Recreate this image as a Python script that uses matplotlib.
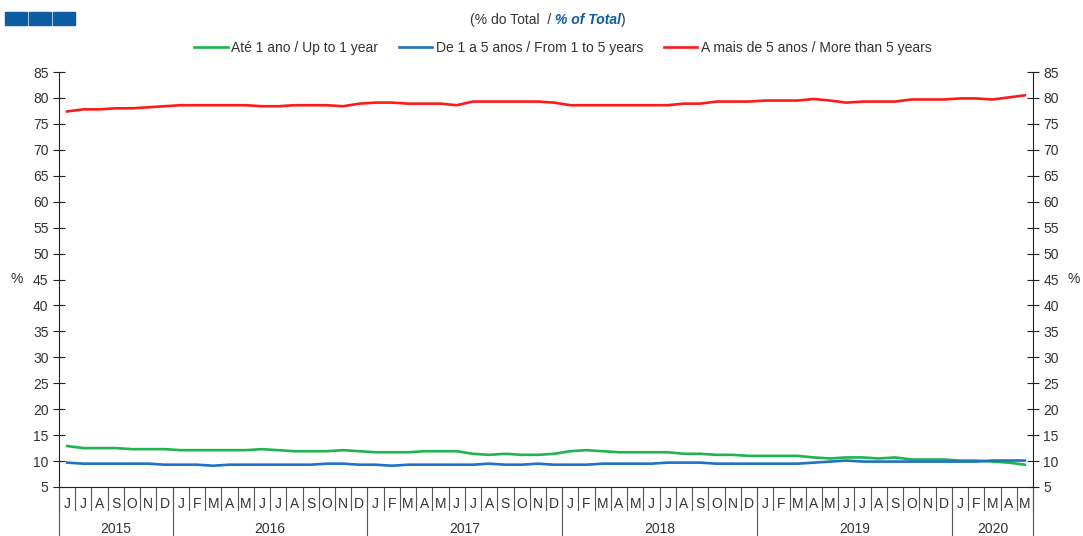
import matplotlib
matplotlib.use('Agg')
import matplotlib.pyplot as plt
from matplotlib.patches import Rectangle
import numpy as np

plt.rcParams['font.family'] = ['Liberation Sans', 'DejaVu Sans']

# monthly data, Jun 2015 .. May 2020
months = ['J', 'J', 'A', 'S', 'O', 'N', 'D'] + \
         ['J', 'F', 'M', 'A', 'M', 'J', 'J', 'A', 'S', 'O', 'N', 'D'] * 4 + \
         ['J', 'F', 'M', 'A', 'M']
years = ['2015', '2016', '2017', '2018', '2019', '2020']
months_per_year = [7, 12, 12, 12, 12, 5]

up_to_1 = [12.9, 12.5, 12.5, 12.5, 12.3, 12.3, 12.3,
           12.1, 12.1, 12.1, 12.1, 12.1, 12.3, 12.1, 11.9, 11.9, 11.9, 12.1, 11.9,
           11.7, 11.7, 11.7, 11.9, 11.9, 11.9, 11.4, 11.2, 11.4, 11.2, 11.2, 11.4,
           11.9, 12.1, 11.9, 11.7, 11.7, 11.7, 11.7, 11.4, 11.4, 11.2, 11.2, 11.0,
           11.0, 11.0, 11.0, 10.7, 10.5, 10.7, 10.7, 10.5, 10.7, 10.3, 10.3, 10.3,
           10.1, 10.1, 9.9, 9.7, 9.3]
one_to_5 = [9.7, 9.5, 9.5, 9.5, 9.5, 9.5, 9.3,
            9.3, 9.3, 9.1, 9.3, 9.3, 9.3, 9.3, 9.3, 9.3, 9.5, 9.5, 9.3,
            9.3, 9.1, 9.3, 9.3, 9.3, 9.3, 9.3, 9.5, 9.3, 9.3, 9.5, 9.3,
            9.3, 9.3, 9.5, 9.5, 9.5, 9.5, 9.7, 9.7, 9.7, 9.5, 9.5, 9.5,
            9.5, 9.5, 9.5, 9.7, 9.9, 10.1, 9.9, 9.9, 9.9, 9.9, 9.9, 9.9,
            9.9, 9.9, 10.1, 10.1, 10.1]
more_5 = [77.4, 77.8, 77.8, 78.0, 78.0, 78.2, 78.4,
          78.6, 78.6, 78.6, 78.6, 78.6, 78.4, 78.4, 78.6, 78.6, 78.6, 78.4, 78.9,
          79.1, 79.1, 78.9, 78.9, 78.9, 78.6, 79.3, 79.3, 79.3, 79.3, 79.3, 79.1,
          78.6, 78.6, 78.6, 78.6, 78.6, 78.6, 78.6, 78.9, 78.9, 79.3, 79.3, 79.3,
          79.5, 79.5, 79.5, 79.8, 79.5, 79.1, 79.3, 79.3, 79.3, 79.7, 79.7, 79.7,
          79.9, 79.9, 79.7, 80.1, 80.5]

green = '#1fb450'
blue = '#1f72c4'
red = '#ff1a1a'
txt = '#333333'
fs = 10

fig = plt.figure(figsize=(10.83, 5.36), dpi=100)
ax = fig.add_axes([59 / 1083, 1 - 487 / 536, (1033 - 59) / 1083, (487 - 72) / 536])

x = np.arange(len(months))
ax.plot(x, up_to_1, color=green, lw=1.9, label='Até 1 ano / Up to 1 year')
ax.plot(x, one_to_5, color=blue, lw=1.9, label='De 1 a 5 anos / From 1 to 5 years')
ax.plot(x, more_5, color=red, lw=1.9, label='A mais de 5 anos / More than 5 years')

ax.set_xlim(-0.5, len(months) - 0.5)
ax.set_ylim(5, 85)
ax.set_yticks(range(5, 90, 5))
ax.tick_params(axis='y', direction='inout', length=8, width=0.8, colors='#222222',
               labelcolor=txt, labelsize=fs, right=True, labelright=True)
ax.set_xticks([])
ax.spines['top'].set_visible(False)
for s in ['left', 'right', 'bottom']:
    ax.spines[s].set_color('#222222')
    ax.spines[s].set_linewidth(0.8)

fig.text(17 / 1083, 1 - 279 / 536, '%', fontsize=fs, color=txt, ha='center', va='center')
fig.text(1074 / 1083, 1 - 279 / 536, '%', fontsize=fs, color=txt, ha='center', va='center')

# month labels and separators
trans = ax.get_xaxis_transform()
for i, m in enumerate(months):
    ax.text(i, -0.025, m, transform=trans, ha='center', va='top', fontsize=fs, color=txt)
for i in range(len(months) + 1):
    ax.plot([i - 0.5, i - 0.5], [0, -0.055], transform=trans, color='#555555',
            lw=0.8, clip_on=False)
# year labels and separators
start = 0
for y, n in zip(years, months_per_year):
    ax.text(start + n / 2 - 0.5, -0.084, y, transform=trans, ha='center', va='top',
            fontsize=fs, color=txt)
    ax.plot([start - 0.5, start - 0.5], [0, -0.12], transform=trans, color='#555555',
            lw=0.8, clip_on=False)
    start += n
ax.plot([start - 0.5, start - 0.5], [0, -0.12], transform=trans, color='#555555',
        lw=0.8, clip_on=False)

# blue squares top left
for k in range(3):
    fig.add_artist(Rectangle(((5 + k * 24) / 1083, 1 - 25 / 536), 22 / 1083, 13 / 536,
                             transform=fig.transFigure, color='#0b5ca5'))

# title in pieces
fig.canvas.draw()
r = fig.canvas.get_renderer()
t1 = fig.text(470 / 1083, 1 - 20 / 536, '(% do Total  / ', fontsize=fs, color=txt,
              ha='left', va='center')
bb = t1.get_window_extent(r)
t2 = fig.text(bb.x1 / 1083, 1 - 20 / 536, '% of Total', fontsize=fs, color='#0b5ca5',
              fontweight='bold', fontstyle='italic', ha='left', va='center')
bb = t2.get_window_extent(r)
fig.text(bb.x1 / 1083, 1 - 20 / 536, ')', fontsize=fs, color=txt, ha='left', va='center')

fig.legend(loc='center', bbox_to_anchor=(563 / 1083, 1 - 48 / 536), ncol=3, frameon=False,
           fontsize=fs, handlelength=2.4, handletextpad=0.25, columnspacing=1.5,
           labelcolor=txt)

fig.savefig('out.png', dpi=100)
